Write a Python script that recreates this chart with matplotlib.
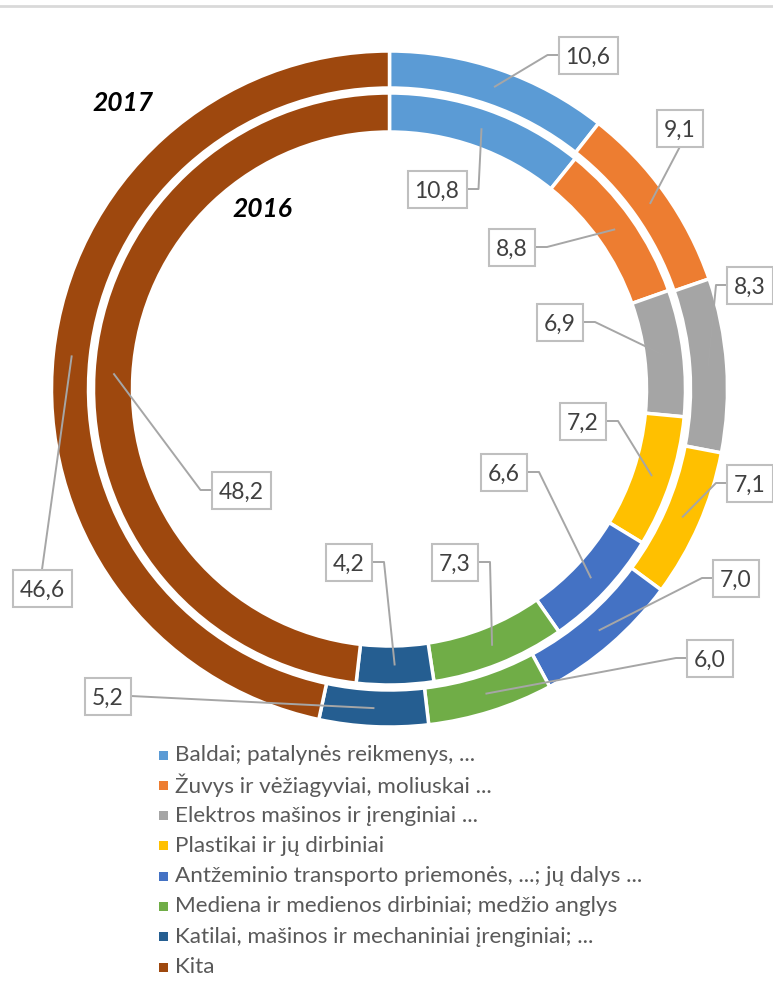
import matplotlib
matplotlib.use('Agg')
import matplotlib.pyplot as plt
from matplotlib.patches import Rectangle
import numpy as np

# ---------------- data ----------------
categories = [
    'Baldai; patalynės reikmenys, ...',
    'Žuvys ir vėžiagyviai, moliuskai ...',
    'Elektros mašinos ir įrenginiai ...',
    'Plastikai ir jų dirbiniai',
    'Antžeminio transporto priemonės, ...; jų dalys ...',
    'Mediena ir medienos dirbiniai; medžio anglys',
    'Katilai, mašinos ir mechaniniai įrenginiai; ...',
    'Kita',
]
values_2017 = [10.6, 9.1, 8.3, 7.1, 7.0, 6.0, 5.2, 46.6]
values_2016 = [10.8, 8.8, 6.9, 7.2, 6.6, 7.3, 4.2, 48.2]
years = ['2017', '2016']
colors = ['#5B9BD5', '#ED7D31', '#A5A5A5', '#FFC000',
          '#4472C4', '#70AD47', '#255E91', '#9E480E']

# ---------------- layout (pixels, y from top) ----------------
W, H = 773, 994
cx, cy = 389.5, 389
R_out, w_out = 338, 37
R_in, w_in = 296, 39

# label box centres and the side the leader leaves from
boxes_2017 = [(588, 55, 'L'), (680, 128, 'B'), (750, 285, 'L'), (750, 483, 'L'),
              (736, 578, 'L'), (710, 658, 'L'), (108, 696, 'R0'), (42, 588, 'T')]
boxes_2016 = [(437, 189, 'R'), (512, 247, 'R'), (560, 322, 'R'), (583, 421, 'R'),
              (504, 472, 'R'), (455, 562, 'R'), (349, 562, 'R'), (241, 490, 'L')]

FONT = ['Lato', 'DejaVu Sans']
plt.rcParams['font.family'] = FONT

fig = plt.figure(figsize=(W / 100, H / 100), dpi=100)
ax = fig.add_axes([0, 0, 1, 1])


def P(x, y):
    return (x, H - y)


ax.pie(values_2017, radius=R_out, center=P(cx, cy), colors=colors,
       startangle=90, counterclock=False,
       wedgeprops=dict(width=w_out, edgecolor='white', linewidth=2.5))
ax.pie(values_2016, radius=R_in, center=P(cx, cy), colors=colors,
       startangle=90, counterclock=False,
       wedgeprops=dict(width=w_in, edgecolor='white', linewidth=2.5))

ax.set_xlim(0, W)
ax.set_ylim(0, H)
ax.set_aspect('equal')
ax.axis('off')


def anchors(vals, r_mid):
    v = np.asarray(vals, float)
    frac = v / v.sum()
    mid = np.cumsum(frac) - frac / 2
    th = np.deg2rad(mid * 360)
    return cx + r_mid * np.sin(th), cy - r_mid * np.cos(th)


def draw_labels(vals, boxes, r_mid):
    axs, ays = anchors(vals, r_mid)
    for v, (bx, by, side), ax_, ay_ in zip(vals, boxes, axs, ays):
        txt = f"{v:.1f}".replace('.', ',')
        hw = 29.5 if len(txt) >= 4 else 23
        hh = 18.5
        if side == 'L':
            pts = [(bx - hw, by), (bx - hw - 11, by), (ax_, ay_)]
        elif side == 'R':
            pts = [(bx + hw, by), (bx + hw + 12, by), (ax_, ay_)]
        elif side == 'R0':
            pts = [(bx + hw, by), (ax_, ay_)]
        elif side == 'B':
            pts = [(bx, by + hh), (ax_, ay_)]
        else:
            pts = [(bx, by - hh), (ax_, ay_)]
        xs = [p[0] for p in pts]
        ys = [H - p[1] for p in pts]
        ax.plot(xs, ys, color='#A6A6A6', lw=1.4, zorder=5, solid_capstyle='butt')
        ax.add_patch(Rectangle((bx - hw, H - by - hh), 2 * hw, 2 * hh,
                               facecolor='white', edgecolor='#BFBFBF', lw=1.5, zorder=6))
        ax.text(bx, H - by, txt, ha='center', va='center_baseline', fontsize=16.5,
                color='#404040', zorder=7)


draw_labels(values_2017, boxes_2017, R_out - w_out / 2)
draw_labels(values_2016, boxes_2016, R_in - w_in / 2)

# year labels
ax.text(*P(123, 103), years[0], ha='center', va='center', fontsize=19,
        fontweight='bold', fontstyle='italic', color='black')
ax.text(*P(262, 209), years[1], ha='center', va='center', fontsize=19,
        fontweight='bold', fontstyle='italic', color='black')

# legend
y0, dy = 755, 30.3
for i, (cat, col) in enumerate(zip(categories, colors)):
    yy = y0 + i * dy
    ax.add_patch(Rectangle((158.5, H - yy - 4.5), 9, 9, facecolor=col, edgecolor='none'))
    ax.text(175, H - yy, cat, ha='left', va='center', fontsize=16.2, color='#595959')

# top rule line
ax.plot([0, W], [H - 6, H - 6], color='#D9D9D9', lw=2)

fig.savefig('out.png', dpi=100)
